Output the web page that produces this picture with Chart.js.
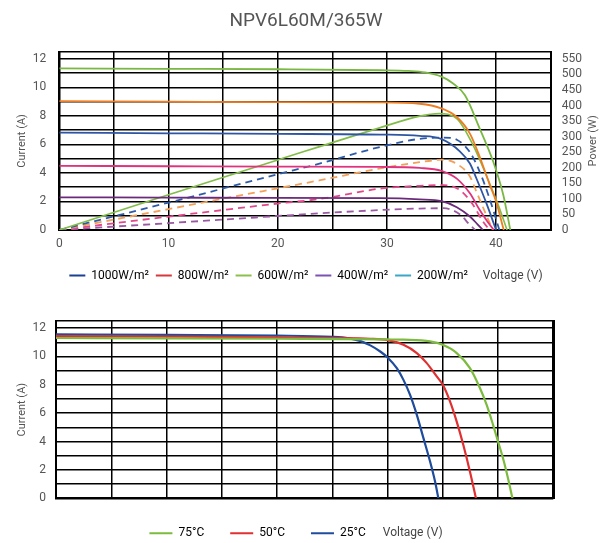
<!DOCTYPE html>
<html>
<head>
<meta charset="utf-8">
<script src="https://cdn.jsdelivr.net/npm/chart.js@4.4.1/dist/chart.umd.min.js"></script>
<style>
html, body { margin: 0; padding: 0; background: #fff; }
#top { position: absolute; left: 0; top: 0; width: 612px; height: 292px; }
#bottom { position: absolute; left: 0; top: 292px; width: 612px; height: 251px; }
</style>
</head>
<body>
<div id="top"><canvas id="ivChart"></canvas></div>
<div id="bottom"><canvas id="tempChart"></canvas></div>
<script>
// Dados
const currentTicks = [0, 2, 4, 6, 8, 10, 12];
const powerTicks = [0, 50, 100, 150, 200, 250, 300, 350, 400, 450, 500, 550];
const voltageTicks = [0, 10, 20, 30, 40];

const irradianceLabels = ['1000W/m²', '800W/m²', '600W/m²', '400W/m²', '200W/m²'];
const irradianceColors = ['#1d3f94', '#d9383a', '#8dc04a', '#7d52b5', '#3aa7c8'];
const tempLabels = ['75°C', '50°C', '25°C'];
const tempColors = ['#7dbb3f', '#e03030', '#1f4c9c'];

// Curvas I-V (A)
const v1000 = [0, 10, 20, 29.4, 32, 33.5, 35, 36, 37.15, 38.5, 39.74, 40.66, 41.3];
const i1000 = [11.33, 11.3, 11.27, 11.2, 11.15, 11.05, 10.75, 10.3, 9.44, 7.11, 4.78, 2.45, 0];
const v800 = [0, 10, 20, 29.4, 33, 34.9, 36.4, 37.6, 38.5, 39.4, 40, 40.7];
const i800 = [9.04, 9.0, 8.96, 8.95, 8.85, 8.55, 7.92, 6.76, 5.13, 3.2, 2.0, 0];
const v600 = [0, 10, 20, 29.4, 33, 34.9, 36.7, 37.6, 38.2, 39.1, 40.0];
const i600 = [6.82, 6.78, 6.74, 6.69, 6.6, 6.4, 5.5, 4.66, 3.61, 1.9, 0];
const v400 = [0, 10, 20, 29.4, 33, 35, 36.4, 37.6, 38.5, 39.2, 39.8];
const i400 = [4.5, 4.47, 4.44, 4.42, 4.35, 4.15, 3.6, 2.57, 1.4, 0.6, 0];
const v200 = [0, 10, 20, 29.4, 33, 35, 36.4, 37.6, 38.3, 38.8];
const i200 = [2.29, 2.27, 2.25, 2.24, 2.15, 2.02, 1.6, 0.95, 0.4, 0];

// Curvas P-V (W)
const pv1000 = [0, 10, 20, 29.4, 33, 34.8, 36.4, 37.9, 39.1, 40.2, 41.0];
const p1000 = [0, 113, 225, 329, 366, 374, 358, 272, 176, 80, 0];
const pv800 = [0, 10, 20, 23.9, 29.4, 33, 35.2, 36.4, 37.6, 38.5, 39.4, 40.3];
const p800 = [0, 88, 179, 214, 267, 293, 297, 290, 250, 187, 101, 0];
const pv600 = [0, 10, 20, 23.9, 29.4, 33, 35.2, 36.6, 37.6, 38.2, 39.1, 39.7];
const p600 = [0, 67, 134, 160, 198, 218, 226, 208, 172, 123, 48, 0];
const pv400 = [0, 10, 20, 23.9, 29.4, 33, 35.2, 36.7, 37.9, 38.8, 39.4];
const p400 = [0, 43, 85, 100, 133, 142, 144, 128, 80, 27, 0];
const pv200 = [0, 10, 20, 23.9, 29.4, 33, 35.2, 36.7, 37.6, 38.1];
const p200 = [0, 22, 45, 54, 64, 69, 70, 50, 16, 0];

// Curvas por temperatura (A)
const vT75 = [0, 10, 20, 30, 31.44, 33.85, 35, 36.26, 37.46, 38.37, 38.97, 39.55, 40, 40.45, 40.9, 41.3];
const iT75 = [11.3, 11.28, 11.25, 11.2, 11.18, 11.06, 10.82, 10.24, 9.18, 7.76, 6.59, 5.18, 4.0, 2.82, 1.41, 0];
const vT50 = [0, 10, 20, 25, 28.44, 30, 31.44, 32.65, 33.55, 34.45, 35, 35.66, 36.26, 36.86, 37.46, 38.0];
const iT50 = [11.43, 11.4, 11.35, 11.3, 11.25, 11.15, 10.82, 10.24, 9.53, 8.59, 8.0, 6.82, 5.41, 3.76, 1.88, 0];
const vT25 = [0, 10, 20, 25, 26.5, 27.5, 28.44, 29.34, 30, 30.84, 31.44, 32.04, 32.65, 33.25, 33.85, 34.3, 34.6];
const iT25 = [11.55, 11.52, 11.47, 11.38, 11.28, 11.1, 10.78, 10.35, 9.93, 9.18, 8.35, 7.29, 5.88, 4.24, 2.59, 1.18, 0];

Chart.defaults.font.family = 'Roboto, "DejaVu Sans", sans-serif';
Chart.defaults.color = '#555';

const curve = (xs, ys, color, axis, dash, width) => ({
    data: xs.map((x, i) => ({ x, y: ys[i] })),
    borderColor: color,
    borderWidth: width,
    borderDash: dash,
    yAxisID: axis,
    showLine: true,
    pointRadius: 0,
    fill: false,
    cubicInterpolationMode: 'monotone'
});

// grade a cada passo (linhas de grade sem rótulo)
const gridTicks = (step, max) => {
    const out = [];
    for (let v = 0; v <= max + 1e-9; v += step) out.push({ value: v });
    return out;
};

// texto extra no fim da legenda ("Voltage (V)")
const legendTail = {
    id: 'legendTail',
    afterLayout(chart, args, opts) {
        const ctx = chart.ctx;
        ctx.save();
        ctx.font = '12px ' + Chart.defaults.font.family;
        const w = ctx.measureText(opts.text).width;
        ctx.restore();
        chart.legend.lineWidths[0] += opts.gap + w + 2 * opts.shift;
    },
    afterDraw(chart, args, opts) {
        const boxes = chart.legend.legendHitBoxes;
        const last = boxes[boxes.length - 1];
        const ctx = chart.ctx;
        ctx.save();
        ctx.font = '12px ' + Chart.defaults.font.family;
        ctx.fillStyle = '#444';
        ctx.textBaseline = 'middle';
        ctx.fillText(opts.text, last.left + last.width + opts.gap, last.top + last.height / 2);
        ctx.restore();
    }
};

// título do eixo direito, lido de baixo para cima
const sideTitle = {
    id: 'sideTitle',
    afterDraw(chart, args, opts) {
        const a = chart.chartArea;
        const ctx = chart.ctx;
        ctx.save();
        ctx.translate(opts.x, (a.top + a.bottom) / 2);
        ctx.rotate(-Math.PI / 2);
        ctx.font = '11px ' + Chart.defaults.font.family;
        ctx.fillStyle = '#555';
        ctx.textAlign = 'center';
        ctx.textBaseline = 'middle';
        ctx.fillText(opts.text, 0, 0);
        ctx.restore();
    }
};

const legendItems = (labels, colors) => () => labels.map((t, i) => ({
    text: t, fillStyle: colors[i], strokeStyle: colors[i], lineWidth: 0, hidden: false, datasetIndex: i
}));

const xScale = (height, pad) => ({
    type: 'linear', min: 0, max: 45,
    afterBuildTicks: s => { s.ticks = gridTicks(5, 45); },
    afterFit: s => { s.height = height; },
    ticks: { callback: v => voltageTicks.includes(v) ? v : '', padding: pad, autoSkip: false, maxRotation: 0, font: { size: 12 } },
    grid: { color: '#000', lineWidth: 1.5, drawTicks: false },
    border: { color: '#000', width: 2 }
});

const currentScale = (width, pad) => ({
    type: 'linear', position: 'left', min: 0, max: 12.5,
    afterBuildTicks: s => { s.ticks = gridTicks(1, 12).concat([{ value: 12.5 }]); },
    afterFit: s => { s.width = width; },
    ticks: { callback: v => currentTicks.includes(v) ? v : '', padding: pad, autoSkip: false, font: { size: 12 } },
    grid: { color: '#000', lineWidth: 1.5, drawTicks: false },
    border: { color: '#000', width: 2 },
    title: { display: true, text: 'Current (A)', color: '#555', font: { size: 11 }, padding: { top: 16, bottom: 0 } }
});

// Gráfico superior: I-V e P-V por irradiância
new Chart(document.getElementById('ivChart'), {
    type: 'scatter',
    data: {
        datasets: [
            curve(v1000, i1000, '#79b842', 'y', [], 1.8),
            curve(v800, i800, '#ee7d22', 'y', [], 1.8),
            curve(v600, i600, '#2e55a3', 'y', [], 1.8),
            curve(v400, i400, '#e0337c', 'y', [], 1.8),
            curve(v200, i200, '#6c2a7c', 'y', [], 1.8),
            curve(pv1000, p1000, '#82bd48', 'yP', [], 1.6),
            curve(pv800, p800, '#2e5ba8', 'yP', [7, 5], 1.8),
            curve(pv600, p600, '#f2a05a', 'yP', [7, 5], 1.8),
            curve(pv400, p400, '#e3478a', 'yP', [7, 5], 1.8),
            curve(pv200, p200, '#9a5aa2', 'yP', [7, 5], 1.8)
        ]
    },
    options: {
        responsive: true,
        maintainAspectRatio: false,
        animation: false,
        layout: { padding: { bottom: 0.5 } },
        plugins: {
            title: {
                display: true, text: 'NPV6L60M/365W', color: '#555',
                font: { size: 19, weight: 'normal' }, padding: { top: 9.6, bottom: 19.3 }
            },
            legend: {
                position: 'bottom',
                labels: {
                    boxWidth: 16, boxHeight: 2, padding: 7, color: '#444', font: { size: 12 },
                    generateLabels: legendItems(irradianceLabels, irradianceColors)
                }
            },
            tooltip: { enabled: false },
            legendTail: { text: 'Voltage (V)', gap: 15, shift: 0 },
            sideTitle: { text: 'Power (W)', x: 593 }
        },
        scales: {
            x: xScale(32.5, 7),
            y: currentScale(59.3, 13),
            yP: {
                type: 'linear', position: 'right', min: 0, max: 550 * 12.5 / 12,
                afterBuildTicks: s => { s.ticks = powerTicks.map(v => ({ value: v })); },
                afterFit: s => { s.width = 61.3; },
                ticks: { padding: 11, autoSkip: false, font: { size: 12 } },
                grid: { display: false, drawTicks: false },
                border: { color: '#000', width: 2 }
            }
        }
    },
    plugins: [legendTail, sideTitle]
});

// Gráfico inferior: I-V por temperatura
new Chart(document.getElementById('tempChart'), {
    type: 'scatter',
    data: {
        datasets: [
            curve(vT75, iT75, tempColors[0], 'y', [], 2.2),
            curve(vT50, iT50, tempColors[1], 'y', [], 2.2),
            curve(vT25, iT25, tempColors[2], 'y', [], 2.2)
        ]
    },
    options: {
        responsive: true,
        maintainAspectRatio: false,
        animation: false,
        layout: { padding: { top: 29 } },
        plugins: {
            legend: {
                position: 'bottom',
                maxHeight: 41.7,
                labels: {
                    boxWidth: 23, boxHeight: 2, padding: 26, color: '#444', font: { size: 12 },
                    generateLabels: legendItems(tempLabels, tempColors)
                }
            },
            tooltip: { enabled: false },
            legendTail: { text: 'Voltage (V)', gap: 17, shift: 10 }
        },
        scales: {
            x: xScale(3, 7),
            y: currentScale(56, 10),
            yR: {
                type: 'linear', position: 'right', min: 0, max: 1,
                afterFit: s => { s.width = 58.7; },
                ticks: { display: false },
                grid: { display: false, drawTicks: false },
                border: { color: '#000', width: 3 }
            }
        }
    },
    plugins: [legendTail]
});
</script>
</body>
</html>
